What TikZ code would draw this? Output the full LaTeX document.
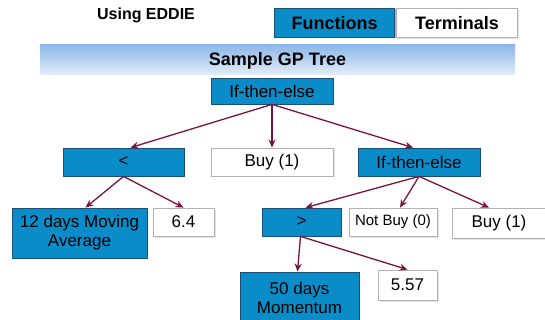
\documentclass[tikz,border=0pt]{standalone}
\usepackage{fontspec}
\setmainfont{Liberation Sans}
\usetikzlibrary{arrows.meta,shadows,calc}
\definecolor{fblue}{HTML}{0A8CC8}
\definecolor{fedge}{HTML}{1A4F78}
\definecolor{arr}{HTML}{7A1340}
\definecolor{bantop}{HTML}{8CB8E8}
\definecolor{banbot}{HTML}{E4EEF9}
\begin{document}
\begin{tikzpicture}[x=1pt,y=-1pt,
  fbox/.style={draw=fedge, line width=0.8pt, fill=fblue, inner sep=0pt, align=center,
    font=\fontsize{17}{19}\selectfont,
    drop shadow={shadow xshift=1pt, shadow yshift=-1pt, fill=fedge!80}},
  tbox/.style={draw=gray!60, line width=0.8pt, fill=white, inner sep=0pt, align=center,
    font=\fontsize{17}{19}\selectfont,
    drop shadow={shadow xshift=1.5pt, shadow yshift=-1.5pt, fill=gray!45}},
  hdr/.style={inner sep=0pt, font=\bfseries\fontsize{18}{20}\selectfont},
  link/.style={draw=arr, line width=1.3pt, -{Stealth[length=8pt,width=7pt]}}]
\useasboundingbox (0,0) rectangle (545,320);
% header
\node[hdr, font=\bfseries\fontsize{16}{18}\selectfont, align=center] (title) at (146,15) {Using EDDIE};
\node[fbox, hdr, minimum width=120, minimum height=29] (fn) at (334.5,23) {Functions};
\node[tbox, hdr, minimum width=121, minimum height=29] (tm) at (457,23) {Terminals};
\shade[top color=bantop, bottom color=banbot] (40,45) rectangle (515,75);
\node[hdr] (banner) at (277.5,61) {Sample GP Tree};
% tree
\node[fbox, minimum width=122, minimum height=26] (root) at (272,91) {If-then-else};
\node[fbox, minimum width=121, minimum height=28] (lt) at (123.5,162) {<};
\node[tbox, minimum width=122, minimum height=28] (buy1) at (272,162) {Buy (1)};
\node[fbox, minimum width=122, minimum height=28] (ite) at (419,162) {If-then-else};
\node[fbox, minimum width=135, minimum height=50] (ma) at (79.5,233) {12 days Moving\\Average};
\node[tbox, minimum width=61, minimum height=28] (v64) at (183.5,222) {6.4};
\node[fbox, minimum width=79, minimum height=28] (gt) at (301.5,222) {>};
\node[tbox, minimum width=88, minimum height=28, font=\fontsize{15}{17}\selectfont] (nb) at (393,222) {Not Buy (0)};
\node[tbox, minimum width=94, minimum height=30] (buy2) at (499,223) {Buy (1)};
\node[fbox, minimum width=119, minimum height=52] (mom) at (299.5,298) {50 days\\Momentum};
\node[tbox, minimum width=59, minimum height=30] (v557) at (407.5,285) {5.57};
% connectors
\draw[link] (root.south) -- ($(lt.north)+(7,0)$);
\draw[link] (root.south) -- (buy1.north);
\draw[link] (root.south) -- ($(ite.north)+(-6,0)$);
\draw[link] (lt.south) -- ($(ma.north)+(6,0)$);
\draw[link] (lt.south) -- (v64.north);
\draw[link] (ite.south) -- ($(gt.north)+(4,0)$);
\draw[link] (ite.south) -- ($(nb.north)+(7,0)$);
\draw[link] (ite.south) -- ($(buy2.north)+(-10,0)$);
\draw[link] ($(gt.south)+(-1,0)$) -- ($(mom.north)+(-2,0)$);
\draw[link] ($(gt.south)+(-1,0)$) -- (v557.north);
\end{tikzpicture}
\end{document}
